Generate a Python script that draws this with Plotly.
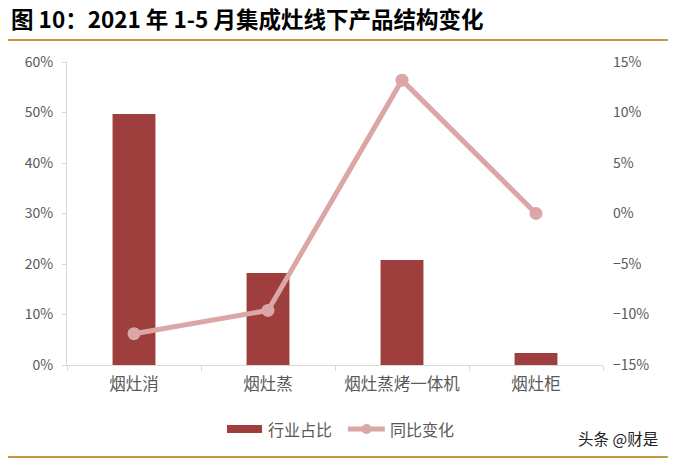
import plotly.graph_objects as go

# 数据
categories = ['烟灶消', '烟灶蒸', '烟灶蒸烤一体机', '烟灶柜']
share = [0.497, 0.182, 0.208, 0.024]      # 行业占比
yoy = [-0.119, -0.096, 0.132, 0.0]       # 同比变化

left_ticks = [0, 0.1, 0.2, 0.3, 0.4, 0.5, 0.6]
right_ticks = [-0.15, -0.10, -0.05, 0, 0.05, 0.10, 0.15]

bar_color = '#9E3F3E'
line_color = '#DBA6A6'
gold = '#C8963E'
grey = '#595959'
font_cjk = 'Noto Sans CJK SC'

fig = go.Figure()

fig.add_trace(go.Bar(x=categories, y=share, name='行业占比',
                     marker=dict(color=bar_color, line=dict(width=0)),
                     width=0.32, showlegend=False))

fig.add_trace(go.Scatter(x=categories, y=yoy, name='同比变化', yaxis='y2',
                         mode='lines+markers',
                         line=dict(color=line_color, width=5),
                         marker=dict(color=line_color, size=13), showlegend=False))

# title and decoration lines
fig.add_annotation(text='<b>图 10：2021 年 1-5 月集成灶线下产品结构变化</b>',
                   xref='paper', yref='paper', x=-0.108, y=1.1436,
                   xanchor='left', yanchor='middle', showarrow=False,
                   font=dict(family=font_cjk, size=22.5, color='#000000'))
fig.add_shape(type='line', xref='paper', yref='paper', x0=-0.110, x1=1.121,
              y0=1.0726, y1=1.0726, line=dict(color=gold, width=2))
fig.add_shape(type='line', xref='paper', yref='paper', x0=-0.110, x1=1.121,
              y0=-0.3036, y1=-0.3036, line=dict(color=gold, width=2))
fig.add_annotation(text='头条 @财是', xref='paper', yref='paper',
                   x=1.106, y=-0.241, xanchor='right', yanchor='middle',
                   showarrow=False, font=dict(family=font_cjk, size=15.5, color='#222222'))

# legend drawn by hand (wide bar swatch like the original)
fig.add_shape(type='rect', xref='paper', yref='paper', x0=0.2985, x1=0.3638,
              y0=-0.2244, y1=-0.198, fillcolor=bar_color, line=dict(width=0))
fig.add_annotation(text='行业占比', xref='paper', yref='paper', x=0.371, y=-0.211,
                   xanchor='left', yanchor='middle', showarrow=False,
                   font=dict(size=16, color=grey))
fig.add_shape(type='line', xref='paper', yref='paper', x0=0.524, x1=0.593,
              y0=-0.211, y1=-0.211, line=dict(color=line_color, width=5))
fig.add_shape(type='circle', xref='paper', yref='paper', x0=0.5495, x1=0.5685,
              y0=-0.2275, y1=-0.1945, fillcolor=line_color, line=dict(width=0))
fig.add_annotation(text='同比变化', xref='paper', yref='paper', x=0.599, y=-0.211,
                   xanchor='left', yanchor='middle', showarrow=False,
                   font=dict(size=16, color=grey))

fig.update_layout(
    width=676, height=462,
    margin=dict(l=67, r=73, t=62, b=97),
    paper_bgcolor='white', plot_bgcolor='white',
    font=dict(family=font_cjk, size=13, color=grey),
    showlegend=False,
    xaxis=dict(type='category', showline=True, linecolor='#D9D9D9', linewidth=1,
               ticks='outside', tickson='boundaries', ticklen=5, tickcolor='#D9D9D9',
               ticklabelstandoff=4,
               tickfont=dict(size=16.5, color=grey), showgrid=False),
    yaxis=dict(range=[0, 0.6], tickvals=left_ticks, tickformat='.0%',
               showline=True, linecolor='#D9D9D9', linewidth=1,
               ticks='outside', ticklen=4, tickcolor='#D9D9D9', ticklabelstandoff=6,
               showgrid=False, zeroline=False, tickfont=dict(size=14, color=grey)),
    yaxis2=dict(range=[-0.15, 0.15], tickvals=right_ticks, tickformat='.0%',
                overlaying='y', side='right', showline=False, showgrid=False,
                ticklabelstandoff=9,
                zeroline=False, tickfont=dict(size=14, color=grey)),
)

# drop the browser's default 8px body margin so the figure fills the window
fig.write_html('out.html', config={'displayModeBar': False},
               post_script="document.body.style.margin='0';")
